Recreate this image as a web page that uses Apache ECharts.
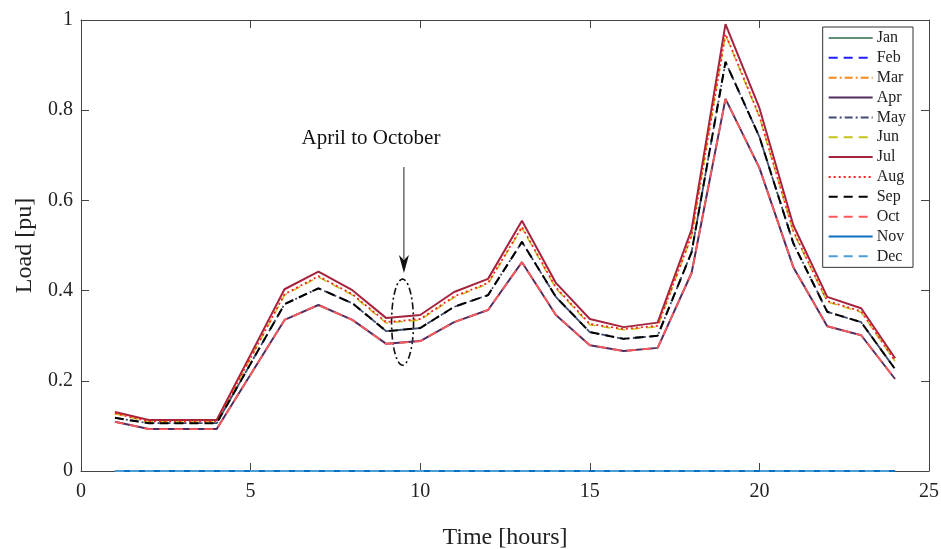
<!DOCTYPE html>
<html>
<head>
<meta charset="utf-8">
<script src="https://cdn.jsdelivr.net/npm/echarts@6/dist/echarts.min.js"></script>
<style>
  html, body { margin: 0; padding: 0; background: #fff; }
  #main { width: 941px; height: 549px; }
</style>
</head>
<body>
<div id="main"></div>
<script>
const hours = [1,2,3,4,5,6,7,8,9,10,11,12,13,14,15,16,17,18,19,20,21,22,23,24];
const months = ['Jan','Feb','Mar','Apr','May','Jun','Jul','Aug','Sep','Oct','Nov','Dec'];

const zeroLoad = [0,0,0,0,0,0,0,0,0,0,0,0,0,0,0,0,0,0,0,0,0,0,0,0];
const aprLoad = [0.109,0.093,0.093,0.093,0.214,0.335,0.368,0.335,0.282,0.288,0.330,0.357,0.463,0.346,0.279,0.266,0.273,0.439,0.825,0.672,0.452,0.321,0.301,0.204];
const mayLoad = [0.118,0.106,0.106,0.106,0.238,0.370,0.405,0.372,0.310,0.317,0.364,0.390,0.508,0.386,0.308,0.293,0.300,0.485,0.907,0.741,0.505,0.353,0.330,0.226];
const junLoad = [0.127,0.109,0.109,0.109,0.250,0.390,0.430,0.390,0.328,0.335,0.385,0.415,0.539,0.405,0.324,0.313,0.320,0.520,0.967,0.785,0.530,0.375,0.352,0.243];
const julLoad = [0.131,0.113,0.113,0.113,0.258,0.403,0.442,0.401,0.339,0.346,0.397,0.426,0.555,0.417,0.337,0.319,0.329,0.535,0.991,0.805,0.545,0.386,0.361,0.250];
const augLoad = [0.128,0.110,0.110,0.110,0.251,0.392,0.432,0.392,0.330,0.337,0.387,0.417,0.541,0.407,0.326,0.315,0.322,0.522,0.969,0.787,0.532,0.377,0.354,0.244];
const sepLoad = [0.118,0.106,0.106,0.106,0.238,0.370,0.405,0.372,0.310,0.317,0.364,0.390,0.508,0.386,0.308,0.293,0.300,0.485,0.907,0.741,0.505,0.353,0.330,0.226];
const octLoad = [0.109,0.093,0.093,0.093,0.214,0.335,0.368,0.335,0.282,0.288,0.330,0.357,0.463,0.346,0.279,0.266,0.273,0.439,0.825,0.672,0.452,0.321,0.301,0.204];

const monthData = [zeroLoad, zeroLoad, zeroLoad, aprLoad, mayLoad, junLoad, julLoad, augLoad, sepLoad, octLoad, zeroLoad, zeroLoad];
const colors = ['#5f8f74','#1f1fff','#f08a1a','#4f2d5e','#3f4d70','#c4c41a','#a3243c','#ff2020','#000000','#ff5a5a','#0b6fc0','#4a9fd6'];
const dashes = ['solid',[9,6],[8,3,2,3],'solid',[8,3,2,3],[9,6],'solid',[2,3],[9,6],[9,6],'solid',[9,6]];
const widths = [1.5,1.5,1.8,2,1.8,1.5,2,1.8,2,1.8,1.8,1.8];

const serif = "'Liberation Serif', 'Times New Roman', serif";
const axisColor = '#444';

const chart = echarts.init(document.getElementById('main'));

const series = months.map((m, i) => ({
  name: m,
  type: 'line',
  xAxisIndex: 0,
  yAxisIndex: 0,
  data: hours.map((h, k) => [h, monthData[i][k]]),
  showSymbol: false,
  symbol: 'none',
  color: colors[i],
  lineStyle: { color: colors[i], type: dashes[i], width: widths[i] },
  emphasis: { disabled: true },
  animation: false
}));

const tick = { show: true, inside: true, length: 8, lineStyle: { color: axisColor } };
const line = { show: true, onZero: false, lineStyle: { color: axisColor, width: 1 } };

chart.setOption({
  animation: false,
  grid: { left: 81, right: 12, top: 20, bottom: 78, outerBoundsMode: 'none', containLabel: false },
  legend: {
    orient: 'vertical',
    right: 28,
    top: 27,
    itemWidth: 44,
    itemHeight: 14,
    itemGap: 3.85,
    padding: [3, 7, 3, 5],
    backgroundColor: '#fff',
    borderColor: '#333',
    borderWidth: 1,
    borderRadius: 0,
    itemStyle: { opacity: 0 },
    textStyle: { fontFamily: serif, fontSize: 16, color: '#222', padding: [0, 0, 0, -1] },
    data: months
  },
  xAxis: [
    {
      type: 'value', min: 0, max: 25, interval: 5,
      name: 'Time [hours]', nameLocation: 'middle', nameGap: 55,
      nameTextStyle: { fontFamily: serif, fontSize: 24, color: '#222' },
      axisLine: line, axisTick: tick,
      axisLabel: { fontFamily: serif, fontSize: 20, color: '#222', margin: 11 },
      splitLine: { show: false }
    },
    {
      type: 'value', min: 0, max: 25, interval: 5, position: 'top',
      axisLine: line, axisTick: tick,
      axisLabel: { show: false },
      splitLine: { show: false }
    }
  ],
  yAxis: [
    {
      type: 'value', min: 0, max: 1, interval: 0.2,
      name: 'Load [pu]', nameLocation: 'middle', nameGap: 31,
      nameTextStyle: { fontFamily: serif, fontSize: 24, color: '#222' },
      axisLine: line, axisTick: tick,
      axisLabel: { fontFamily: serif, fontSize: 20, color: '#222', margin: 8 },
      splitLine: { show: false }
    },
    {
      type: 'value', min: 0, max: 1, interval: 0.2, position: 'right',
      axisLine: line, axisTick: tick,
      axisLabel: { show: false },
      splitLine: { show: false }
    }
  ],
  series: series
});

// annotation placed in data coordinates
const px = (x, y) => chart.convertToPixel({ gridIndex: 0 }, [x, y]);
const textPos = px(8.55, 0.738);
const arrowTop = px(9.52, 0.674);
const arrowTip = px(9.52, 0.439);
const ellC = px(9.48, 0.330);
const ry = 43, rx = 11;
const ellPts = [];
for (let a = 0; a <= 360; a += 5) {
  const t = a * Math.PI / 180;
  ellPts.push([ellC[0] + rx * Math.cos(t), ellC[1] + ry * Math.sin(t)]);
}

chart.setOption({
  graphic: [
    {
      type: 'text', x: textPos[0], y: textPos[1],
      style: { text: 'April to October', font: '21px ' + serif, fill: '#111', align: 'center', verticalAlign: 'middle' }
    },
    {
      type: 'line',
      shape: { x1: arrowTop[0], y1: arrowTop[1], x2: arrowTip[0], y2: arrowTip[1] - 14 },
      style: { stroke: '#222', lineWidth: 1 }
    },
    {
      type: 'polygon',
      shape: { points: [[arrowTip[0], arrowTip[1]], [arrowTip[0] - 5, arrowTip[1] - 18], [arrowTip[0], arrowTip[1] - 13], [arrowTip[0] + 5, arrowTip[1] - 18]] },
      style: { fill: '#111' }
    },
    {
      type: 'polyline',
      shape: { points: ellPts },
      style: { fill: 'none', stroke: '#111', lineWidth: 1.6, lineDash: [7, 3, 2, 3] }
    }
  ]
});
</script>
</body>
</html>
